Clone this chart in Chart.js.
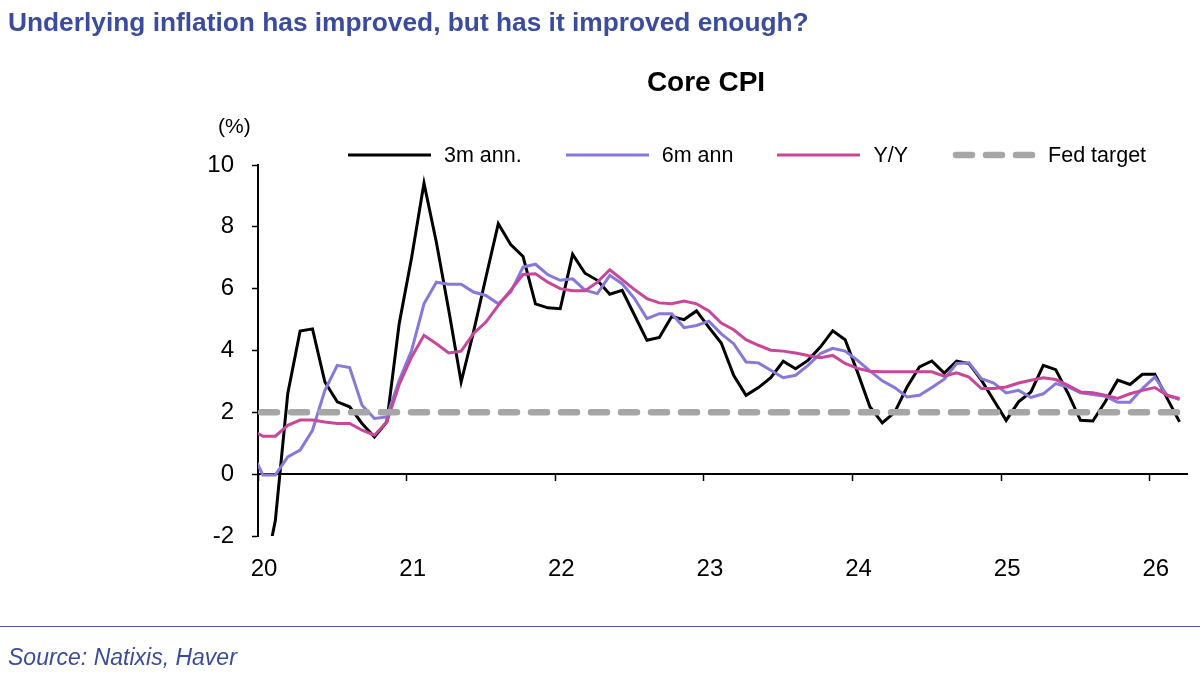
<!DOCTYPE html>
<html>
<head>
<meta charset="utf-8">
<script src="https://cdn.jsdelivr.net/npm/chart.js@4.4.1/dist/chart.umd.min.js"></script>
<style>
    body { margin: 0; background: #fff; font-family: "Liberation Sans", Arial, sans-serif; }
    #page { position: relative; width: 1200px; height: 677px; overflow: hidden; }
    #chart { position: absolute; left: 0; top: 0; }
    #headline { position: absolute; left: 8px; top: 7px; font-size: 26.3px; font-weight: bold; color: #3b4c9f; white-space: nowrap; }
    #chartTitle { position: absolute; left: 556px; width: 300px; top: 66px; text-align: center; font-size: 28px; font-weight: bold; color: #000; }
    #unit { position: absolute; left: 218px; top: 114px; font-size: 21px; color: #000; }
    #legend { position: absolute; left: 348px; top: 142px; height: 26px; display: flex; align-items: center; font-size: 21.5px; color: #000; white-space: nowrap; }
    .item { display: flex; align-items: center; margin-right: 44px; }
    .item canvas { margin-right: 10px; }
    #rule { position: absolute; left: 0; top: 626px; width: 1200px; height: 1px; background: #4b5ba8; }
    #source { position: absolute; left: 8px; top: 644px; font-size: 23px; font-style: italic; color: #3b4c9f; }
</style>
</head>
<body>
<div id="page">
    <canvas id="chart" width="1200" height="677"></canvas>
    <div id="headline">Underlying inflation has improved, but has it improved enough?</div>
    <div id="chartTitle">Core CPI</div>
    <div id="unit">(%)</div>
    <div id="legend"></div>
    <div id="rule"></div>
    <div id="source">Source: Natixis, Haver</div>
</div>
<script>
// monthly readings, first value is the month just left of the "20" tick
let core3m = [
    -1.3, -3.5, -1.5, 2.6, 4.63, 4.7, 2.98, 2.34, 2.18, 1.64, 1.2, 1.69,
    4.87, 7.0, 9.41, 7.5, 5.3, 2.98, 4.6, 6.37, 8.1, 7.43, 7.04, 5.51,
    5.38, 5.35, 7.11, 6.5, 6.27, 5.82, 5.95, 5.14, 4.33, 4.42, 5.1, 5.0,
    5.28, 4.75, 4.24, 3.2, 2.55, 2.8, 3.12, 3.65, 3.41, 3.68, 4.11, 4.64,
    4.35, 3.3, 2.18, 1.66, 2.0, 2.82, 3.47, 3.66, 3.27, 3.66, 3.58, 3.04,
    2.39, 1.74, 2.34, 2.66, 3.52, 3.38, 2.61, 1.74, 1.72, 2.34, 3.04, 2.9,
    3.23, 3.23, 2.45, 1.69
];
let core6m = [
    0.8, -0.03, -0.03, 0.56, 0.78, 1.42, 2.71, 3.52, 3.45, 2.23, 1.8, 1.85,
    3.04, 4.0, 5.51, 6.21, 6.14, 6.14, 5.89, 5.78, 5.51, 5.89, 6.7, 6.79,
    6.45, 6.27, 6.32, 5.95, 5.84, 6.43, 6.16, 5.68, 5.03, 5.19, 5.19, 4.74,
    4.81, 4.95, 4.54, 4.22, 3.63, 3.6, 3.36, 3.12, 3.2, 3.52, 3.9, 4.07,
    3.98, 3.68, 3.34, 3.02, 2.8, 2.5, 2.55, 2.8, 3.07, 3.58, 3.6, 3.09,
    2.95, 2.63, 2.71, 2.48, 2.6, 2.93, 2.82, 2.63, 2.58, 2.52, 2.33, 2.33,
    2.77, 3.14, 2.55, 2.41
];
let coreYoY = [
    1.43, 1.23, 1.23, 1.58, 1.75, 1.75, 1.69, 1.64, 1.64, 1.42, 1.26, 1.69,
    2.9, 3.79, 4.49, 4.22, 3.92, 3.98, 4.55, 4.92, 5.46, 5.95, 6.46, 6.48,
    6.21, 6.0, 5.93, 5.93, 6.21, 6.61, 6.29, 5.97, 5.68, 5.54, 5.51, 5.6,
    5.51, 5.28, 4.89, 4.67, 4.35, 4.17, 4.01, 3.98, 3.92, 3.84, 3.77, 3.84,
    3.58, 3.42, 3.33, 3.31, 3.31, 3.31, 3.31, 3.31, 3.17, 3.28, 3.14, 2.77,
    2.77, 2.82, 2.95, 3.04, 3.12, 3.06, 2.87, 2.66, 2.63, 2.55, 2.45, 2.6,
    2.71, 2.8, 2.55, 2.45
];
let fedTarget = 2;
let yearLabels = ["20", "21", "22", "23", "24", "25", "26"];

let xMin = 0.6;
let xMax = 75.6;
let fontFamily = "'Liberation Sans', Arial, sans-serif";

function toPoints(values) {
    return values.map(function (v, i) {
        return { x: i, y: v };
    });
}

function yearTicks(scale) {
    scale.ticks = yearLabels.map(function (label, k) {
        return { value: xMin + 12 * k };
    });
}

let ctx = document.getElementById("chart").getContext("2d");

let chart = new Chart(ctx, {
    type: "line",
    data: {
        datasets: [
            { label: "3m ann.", data: toPoints(core3m), borderColor: "#000000", borderWidth: 3, order: 3 },
            { label: "6m ann", data: toPoints(core6m), borderColor: "#8679db", borderWidth: 3, order: 2 },
            { label: "Y/Y", data: toPoints(coreYoY), borderColor: "#c9479b", borderWidth: 3, order: 1 },
            {
                label: "Fed target",
                data: [{ x: xMin, y: fedTarget }, { x: xMax, y: fedTarget }],
                borderColor: "#a6a6a6",
                borderWidth: 6.5,
                borderDash: [16, 14],
                borderDashOffset: -3,
                borderCapStyle: "round",
                order: 0
            }
        ]
    },
    options: {
        responsive: false,
        animation: false,
        layout: { padding: { top: 165, right: 13, left: 0, bottom: 0 } },
        elements: {
            point: { radius: 0 },
            line: { tension: 0, fill: false }
        },
        datasets: { line: { clip: 0 } },
        plugins: {
            legend: { display: false },
            tooltip: { enabled: false }
        },
        scales: {
            x: {
                type: "linear",
                position: { y: 0 },
                min: xMin,
                max: xMax,
                afterBuildTicks: yearTicks,
                afterFit: function (s) { s.height = 0; },
                ticks: { display: false },
                grid: { drawOnChartArea: false, tickLength: 6, tickWidth: 1.5, color: "#000" },
                border: { color: "#000", width: 2 }
            },
            x2: {
                type: "linear",
                position: "bottom",
                min: xMin,
                max: xMax,
                afterBuildTicks: yearTicks,
                afterFit: function (s) { s.height = 141; },
                ticks: {
                    autoSkip: false,
                    maxRotation: 0,
                    padding: 11,
                    labelOffset: 6,
                    color: "#000",
                    font: { family: fontFamily, size: 24 },
                    callback: function (value) {
                        return yearLabels[Math.round((value - xMin) / 12)];
                    }
                },
                grid: { display: false },
                border: { display: false }
            },
            y: {
                min: -2,
                max: 10,
                afterFit: function (s) { s.width = 258; },
                ticks: {
                    stepSize: 2,
                    padding: 18,
                    color: "#000",
                    font: { family: fontFamily, size: 24 }
                },
                grid: { drawOnChartArea: false, tickLength: 6, tickWidth: 1.5, color: "#000" },
                border: { color: "#000", width: 2 }
            }
        }
    }
});

// Legend built from the datasets
let legend = document.getElementById("legend");
chart.data.datasets.forEach(function (ds) {
    let item = document.createElement("div");
    item.className = "item";

    let sample = document.createElement("canvas");
    sample.width = 86;
    sample.height = 12;
    let g = sample.getContext("2d");
    g.strokeStyle = ds.borderColor;
    g.lineWidth = ds.borderDash ? ds.borderWidth : 3;
    g.lineCap = ds.borderDash ? "round" : "butt";
    if (ds.borderDash) g.setLineDash(ds.borderDash);
    g.beginPath();
    g.moveTo(ds.borderDash ? 4 : 0, 6);
    g.lineTo(ds.borderDash ? 86 : 83, 6);
    g.stroke();

    let span = document.createElement("span");
    span.textContent = ds.label;

    item.appendChild(sample);
    item.appendChild(span);
    legend.appendChild(item);
});
</script>
</body>
</html>
